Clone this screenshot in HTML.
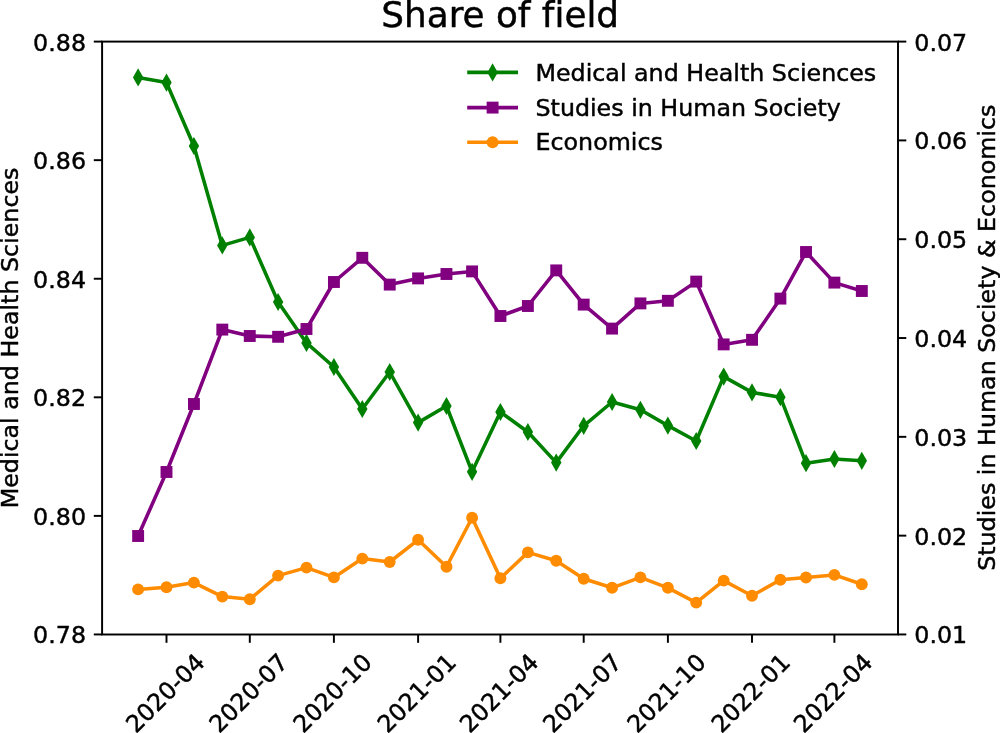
<!DOCTYPE html>
<html><head><meta charset="utf-8"><title>Share of field</title>
<style>html,body{margin:0;padding:0;background:#fff}svg{display:block;will-change:transform}text{stroke:#000;stroke-width:0.45px;stroke-linejoin:round;font-variant-ligatures:none;font-kerning:normal;font-family:"DejaVu Sans","Liberation Sans",sans-serif;fill:#000}</style></head><body>
<svg width="1000" height="733" viewBox="0 0 1000 733">
<rect width="1000" height="733" fill="#fff"/>
<g fill="none" stroke-width="3.56" stroke-linejoin="round" stroke-linecap="butt">
<polyline stroke="#008000" points="138.1,77.4 166.5,82.6 193.9,146.0 222.3,245.4 249.8,237.4 278.1,302.0 306.5,342.9 333.9,367.0 362.3,409.0 389.7,372.0 418.1,422.6 446.5,406.0 472.1,471.8 500.4,412.0 527.9,432.0 556.2,462.6 583.7,425.8 612.1,402.0 640.4,409.8 667.9,425.6 696.2,441.0 723.7,376.6 752.0,392.4 780.4,397.2 806.0,463.2 834.4,459.0 861.8,460.8"/>
</g>
<g fill="#008000"><path d="M138.1 68.30L143.34 77.4L138.1 86.50L132.94 77.4Z"/><path d="M166.5 73.50L171.70 82.6L166.5 91.70L161.30 82.6Z"/><path d="M193.9 136.90L199.15 146.0L193.9 155.10L188.75 146.0Z"/><path d="M222.3 236.30L227.51 245.4L222.3 254.50L217.11 245.4Z"/><path d="M249.8 228.30L254.96 237.4L249.8 246.50L244.56 237.4Z"/><path d="M278.1 292.90L283.32 302.0L278.1 311.10L272.92 302.0Z"/><path d="M306.5 333.80L311.68 342.9L306.5 352.00L301.28 342.9Z"/><path d="M333.9 357.90L339.13 367.0L333.9 376.10L328.73 367.0Z"/><path d="M362.3 399.90L367.49 409.0L362.3 418.10L357.09 409.0Z"/><path d="M389.7 362.90L394.94 372.0L389.7 381.10L384.54 372.0Z"/><path d="M418.1 413.50L423.30 422.6L418.1 431.70L412.90 422.6Z"/><path d="M446.5 396.90L451.66 406.0L446.5 415.10L441.26 406.0Z"/><path d="M472.1 462.70L477.28 471.8L472.1 480.90L466.88 471.8Z"/><path d="M500.4 402.90L505.64 412.0L500.4 421.10L495.24 412.0Z"/><path d="M527.9 422.90L533.09 432.0L527.9 441.10L522.69 432.0Z"/><path d="M556.2 453.50L561.45 462.6L556.2 471.70L551.05 462.6Z"/><path d="M583.7 416.70L588.89 425.8L583.7 434.90L578.49 425.8Z"/><path d="M612.1 392.90L617.26 402.0L612.1 411.10L606.86 402.0Z"/><path d="M640.4 400.70L645.62 409.8L640.4 418.90L635.22 409.8Z"/><path d="M667.9 416.50L673.07 425.6L667.9 434.70L662.67 425.6Z"/><path d="M696.2 431.90L701.43 441.0L696.2 450.10L691.03 441.0Z"/><path d="M723.7 367.50L728.87 376.6L723.7 385.70L718.47 376.6Z"/><path d="M752.0 383.30L757.24 392.4L752.0 401.50L746.84 392.4Z"/><path d="M780.4 388.10L785.60 397.2L780.4 406.30L775.20 397.2Z"/><path d="M806.0 454.10L811.22 463.2L806.0 472.30L800.82 463.2Z"/><path d="M834.4 449.90L839.58 459.0L834.4 468.10L829.18 459.0Z"/><path d="M861.8 451.70L867.02 460.8L861.8 469.90L856.62 460.8Z"/></g>
<polyline fill="none" stroke-width="3.56" stroke-linejoin="round" stroke="#800080" points="138.1,536.0 166.5,472.0 193.9,404.0 222.3,329.6 249.8,336.0 278.1,336.8 306.5,329.0 333.9,282.0 362.3,257.8 389.7,284.6 418.1,278.4 446.5,274.0 472.1,271.4 500.4,316.0 527.9,306.0 556.2,270.4 583.7,304.6 612.1,328.6 640.4,303.4 667.9,300.8 696.2,281.6 723.7,344.4 752.0,339.8 780.4,298.6 806.0,252.0 834.4,282.6 861.8,291.0"/>
<g fill="#800080"><rect x="132.19" y="530.05" width="11.9" height="11.9"/><rect x="160.55" y="466.05" width="11.9" height="11.9"/><rect x="188.00" y="398.05" width="11.9" height="11.9"/><rect x="216.36" y="323.65" width="11.9" height="11.9"/><rect x="243.81" y="330.05" width="11.9" height="11.9"/><rect x="272.17" y="330.85" width="11.9" height="11.9"/><rect x="300.53" y="323.05" width="11.9" height="11.9"/><rect x="327.98" y="276.05" width="11.9" height="11.9"/><rect x="356.34" y="251.85" width="11.9" height="11.9"/><rect x="383.79" y="278.65" width="11.9" height="11.9"/><rect x="412.15" y="272.45" width="11.9" height="11.9"/><rect x="440.51" y="268.05" width="11.9" height="11.9"/><rect x="466.13" y="265.45" width="11.9" height="11.9"/><rect x="494.49" y="310.05" width="11.9" height="11.9"/><rect x="521.94" y="300.05" width="11.9" height="11.9"/><rect x="550.30" y="264.45" width="11.9" height="11.9"/><rect x="577.74" y="298.65" width="11.9" height="11.9"/><rect x="606.11" y="322.65" width="11.9" height="11.9"/><rect x="634.47" y="297.45" width="11.9" height="11.9"/><rect x="661.92" y="294.85" width="11.9" height="11.9"/><rect x="690.28" y="275.65" width="11.9" height="11.9"/><rect x="717.72" y="338.45" width="11.9" height="11.9"/><rect x="746.09" y="333.85" width="11.9" height="11.9"/><rect x="774.45" y="292.65" width="11.9" height="11.9"/><rect x="800.07" y="246.05" width="11.9" height="11.9"/><rect x="828.43" y="276.65" width="11.9" height="11.9"/><rect x="855.87" y="285.05" width="11.9" height="11.9"/></g>
<polyline fill="none" stroke-width="3.56" stroke-linejoin="round" stroke="#ff8c00" points="138.1,589.4 166.5,587.2 193.9,582.6 222.3,596.6 249.8,599.2 278.1,575.6 306.5,567.6 333.9,577.4 362.3,558.6 389.7,562.0 418.1,539.8 446.5,566.8 472.1,517.7 500.4,578.2 527.9,552.4 556.2,560.8 583.7,578.8 612.1,587.8 640.4,577.4 667.9,587.8 696.2,602.6 723.7,580.6 752.0,595.8 780.4,579.8 806.0,577.5 834.4,574.9 861.8,584.2"/>
<g fill="#ff8c00"><circle cx="138.1" cy="589.4" r="5.95"/><circle cx="166.5" cy="587.2" r="5.95"/><circle cx="193.9" cy="582.6" r="5.95"/><circle cx="222.3" cy="596.6" r="5.95"/><circle cx="249.8" cy="599.2" r="5.95"/><circle cx="278.1" cy="575.6" r="5.95"/><circle cx="306.5" cy="567.6" r="5.95"/><circle cx="333.9" cy="577.4" r="5.95"/><circle cx="362.3" cy="558.6" r="5.95"/><circle cx="389.7" cy="562.0" r="5.95"/><circle cx="418.1" cy="539.8" r="5.95"/><circle cx="446.5" cy="566.8" r="5.95"/><circle cx="472.1" cy="517.7" r="5.95"/><circle cx="500.4" cy="578.2" r="5.95"/><circle cx="527.9" cy="552.4" r="5.95"/><circle cx="556.2" cy="560.8" r="5.95"/><circle cx="583.7" cy="578.8" r="5.95"/><circle cx="612.1" cy="587.8" r="5.95"/><circle cx="640.4" cy="577.4" r="5.95"/><circle cx="667.9" cy="587.8" r="5.95"/><circle cx="696.2" cy="602.6" r="5.95"/><circle cx="723.7" cy="580.6" r="5.95"/><circle cx="752.0" cy="595.8" r="5.95"/><circle cx="780.4" cy="579.8" r="5.95"/><circle cx="806.0" cy="577.5" r="5.95"/><circle cx="834.4" cy="574.9" r="5.95"/><circle cx="861.8" cy="584.2" r="5.95"/></g>
<rect x="102.1" y="41.6" width="795.9" height="592.9" fill="none" stroke="#000" stroke-width="1.95" stroke-linejoin="miter"/>
<g stroke="#000" stroke-width="1.95">
<line x1="93.8" y1="41.60" x2="102.1" y2="41.60"/>
<line x1="93.8" y1="160.17" x2="102.1" y2="160.17"/>
<line x1="93.8" y1="278.74" x2="102.1" y2="278.74"/>
<line x1="93.8" y1="397.31" x2="102.1" y2="397.31"/>
<line x1="93.8" y1="515.88" x2="102.1" y2="515.88"/>
<line x1="93.8" y1="634.45" x2="102.1" y2="634.45"/>
<line x1="898.0" y1="41.60" x2="906.3" y2="41.60"/>
<line x1="898.0" y1="140.41" x2="906.3" y2="140.41"/>
<line x1="898.0" y1="239.22" x2="906.3" y2="239.22"/>
<line x1="898.0" y1="338.03" x2="906.3" y2="338.03"/>
<line x1="898.0" y1="436.83" x2="906.3" y2="436.83"/>
<line x1="898.0" y1="535.64" x2="906.3" y2="535.64"/>
<line x1="898.0" y1="634.45" x2="906.3" y2="634.45"/>
<line x1="166.5" y1="634.45" x2="166.5" y2="642.8"/>
<line x1="249.8" y1="634.45" x2="249.8" y2="642.8"/>
<line x1="333.9" y1="634.45" x2="333.9" y2="642.8"/>
<line x1="418.1" y1="634.45" x2="418.1" y2="642.8"/>
<line x1="500.4" y1="634.45" x2="500.4" y2="642.8"/>
<line x1="583.7" y1="634.45" x2="583.7" y2="642.8"/>
<line x1="667.9" y1="634.45" x2="667.9" y2="642.8"/>
<line x1="752.0" y1="634.45" x2="752.0" y2="642.8"/>
<line x1="834.4" y1="634.45" x2="834.4" y2="642.8"/>
</g>
<g font-size="23.75px">
<text x="86.0" y="50.55" text-anchor="end">0.88</text>
<text x="86.0" y="169.12" text-anchor="end">0.86</text>
<text x="86.0" y="287.69" text-anchor="end">0.84</text>
<text x="86.0" y="406.26" text-anchor="end">0.82</text>
<text x="86.0" y="524.83" text-anchor="end">0.80</text>
<text x="86.0" y="643.40" text-anchor="end">0.78</text>
<text x="914.3" y="50.55">0.07</text>
<text x="914.3" y="149.36">0.06</text>
<text x="914.3" y="248.17">0.05</text>
<text x="914.3" y="346.98">0.04</text>
<text x="914.3" y="445.78">0.03</text>
<text x="914.3" y="544.59">0.02</text>
<text x="914.3" y="643.40">0.01</text>
<text transform="translate(135.9 734.1) rotate(-45)">2020-04</text>
<text transform="translate(219.2 734.1) rotate(-45)">2020-07</text>
<text transform="translate(303.3 734.1) rotate(-45)">2020-10</text>
<text transform="translate(387.5 734.1) rotate(-45)">2021-01</text>
<text transform="translate(469.8 734.1) rotate(-45)">2021-04</text>
<text transform="translate(553.1 734.1) rotate(-45)">2021-07</text>
<text transform="translate(637.3 734.1) rotate(-45)">2021-10</text>
<text transform="translate(721.4 734.1) rotate(-45)">2022-01</text>
<text transform="translate(803.8 734.1) rotate(-45)">2022-04</text>
<text transform="translate(18.4 337.9) rotate(-90)" text-anchor="middle">Medical and Health Sciences</text>
<text transform="translate(995.3 337.7) rotate(-90)" text-anchor="middle">Studies in Human Society &amp; Economics</text>
<line x1="467.2" y1="72.4" x2="518.0" y2="72.4" stroke="#008000" stroke-width="3.56"/>
<g fill="#008000"><path d="M492.6 63.30L497.80 72.4L492.6 81.50L487.40 72.4Z"/></g>
<text x="535.5" y="81.0">Medical and Health Sciences</text>
<line x1="467.2" y1="107.6" x2="518.0" y2="107.6" stroke="#800080" stroke-width="3.56"/>
<g fill="#800080"><rect x="486.65" y="101.65" width="11.9" height="11.9"/></g>
<text x="535.5" y="115.7">Studies in Human Society</text>
<line x1="467.2" y1="142.2" x2="518.0" y2="142.2" stroke="#ff8c00" stroke-width="3.56"/>
<g fill="#ff8c00"><circle cx="492.6" cy="142.2" r="5.95"/></g>
<text x="535.5" y="150.4">Economics</text>
</g>
<text x="500.2" y="27.3" font-size="35.8px" text-anchor="middle">Share of field</text>
</svg></body></html>
